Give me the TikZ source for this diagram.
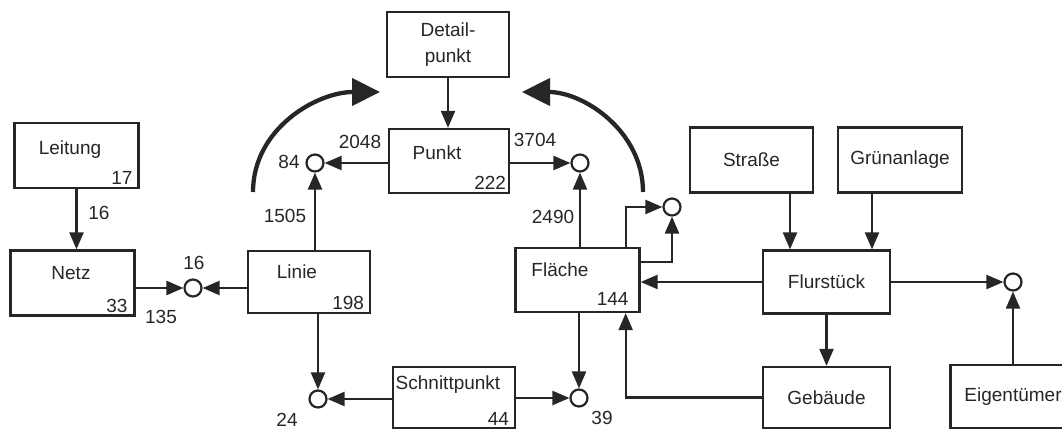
\documentclass[tikz,border=0pt]{standalone}
\usepackage{fontspec}
\setmainfont{Liberation Sans}
\usepackage{tikz}
\usetikzlibrary{arrows.meta}

\begin{document}
\begin{tikzpicture}[
  x=1pt, y=-1pt,
  entity/.style={
    draw=black!85,
    line width=2.3pt,
    minimum width=124pt,
    minimum height=65pt,
    inner sep=0pt,
    align=center,
    text=black!85,
    font=\fontsize{19pt}{26pt}\selectfont
  },
  caption/.style={
    inner sep=0pt,
    text=black!85,
    font=\fontsize{19pt}{26pt}\selectfont
  },
  count/.style={
    anchor=south east,
    inner sep=0pt,
    text=black!85,
    font=\fontsize{19pt}{26pt}\selectfont
  },
  link/.style={
    circle,
    draw=black!85,
    line width=2.2pt,
    minimum size=17pt,
    inner sep=0pt
  },
  flow/.style={
    -{Triangle[length=17pt,width=14pt]},
    draw=black!85,
    line width=2.3pt
  },
  swing/.style={
    -{Triangle[length=28pt,width=27pt]},
    draw=black!85,
    line width=4.3pt
  }
]
\useasboundingbox (0,0) rectangle (1062,430);

% Left part: Leitung, Netz, Linie
\node[entity] (leitung) at (76.5,155.5) {};
\node[caption] (leitung-t) at (70,150) {Leitung};
\node[count] (leitung-n) at ([shift={(-7pt,4pt)}]leitung.south east) {17};

\node[entity] (netz) at (72.5,283) {};
\node[caption] (netz-t) at (71,273) {Netz};
\node[count] (netz-n) at ([shift={(-8pt,4pt)}]netz.south east) {33};

\node[entity, minimum width=122pt, minimum height=62pt] (linie) at (309,282) {};
\node[caption] (linie-t) at (297,272) {Linie};
\node[count] (linie-n) at ([shift={(-7pt,4pt)}]linie.south east) {198};

% Middle part: Detailpunkt, Punkt, Fläche, Schnittpunkt
\node[entity, minimum width=122pt] (detail) at (448,44.5) {Detail-\\punkt};

\node[entity, minimum width=120pt, minimum height=64pt] (punkt) at (449,161) {};
\node[caption] (punkt-t) at (437,153) {Punkt};
\node[count] (punkt-n) at ([shift={(-4pt,4pt)}]punkt.south east) {222};

\node[entity, minimum height=64pt] (flaeche) at (577.5,280) {};
\node[caption] (flaeche-t) at (560,270) {Fläche};
\node[count] (flaeche-n) at ([shift={(-12pt,7pt)}]flaeche.south east) {144};

\node[entity, minimum width=122pt, minimum height=61pt] (schnitt) at (454,397.5) {};
\node[caption] (schnitt-t) at (448,385) {Schnittpunkt};
\node[count] (schnitt-n) at ([shift={(-7pt,3pt)}]schnitt.south east) {44};

% Right part: Straße, Grünanlage, Flurstück, Gebäude, Eigentümer
\node[entity, minimum width=123pt] (strasse) at (751.5,160) {Straße};
\node[entity] (gruen) at (900,160) {Grünanlage};
\node[entity, minimum width=127pt, minimum height=63pt] (flur) at (826.5,282) {Flurstück};
\node[entity, minimum width=127pt, minimum height=61pt] (gebaeude) at (826.5,397.5) {Gebäude};
\node[entity, minimum width=125pt, minimum height=63pt] (eigen) at (1013,396.5) {Eigentümer};

% Connection circles
\node[link] (c16) at (193,288) {};
\node[link] (c84) at (315,163) {};
\node[link] (c37) at (580,163) {};
\node[link] (cf) at (672,207) {};
\node[link] (c24) at (318,399) {};
\node[link] (c39) at (579,398) {};
\node[link] (ce) at (1013,282) {};

% Numbers on the links
\node[caption] (n16a) at (99,213) {16};
\node[caption] (n16b) at (194,263) {16};
\node[caption] (n135) at (161,317) {135};
\node[caption] (n1505) at (285,216) {1505};
\node[caption] (n84) at (289,162) {84};
\node[caption] (n2048) at (360,142) {2048};
\node[caption] (n3704) at (535,140) {3704};
\node[caption] (n2490) at (553,217) {2490};
\node[caption] (n24) at (287,420) {24};
\node[caption] (n39) at (602,418) {39};

% Helper points
\coordinate (s1) at ([xshift=-36.5pt]flur.north);
\coordinate (g1) at ([xshift=45.5pt]flur.north);
\coordinate (la) at (253,192);
\coordinate (lb) at (380,92);
\coordinate (ra) at (643,192);
\coordinate (rb) at (522,92);

\draw[flow] (leitung.south) -- (leitung.south |- netz.north);
\draw[flow] (netz.east |- c16) -- (c16);
\draw[flow] (linie.west |- c16) -- (c16);
\draw[flow] (c84 |- linie.north) -- (c84);
\draw[flow] (punkt.west |- c84) -- (c84);
\draw[flow] (detail.south) -- (detail.south |- punkt.north);
\draw[flow] (punkt.east |- c37) -- (c37);
\draw[flow] (c37 |- flaeche.north) -- (c37);
\draw[flow] ([xshift=-15pt]flaeche.north east) |- (cf);
\draw[flow] ([yshift=18pt]flaeche.east) -| (cf);
\draw[flow] (flur.west) -- (flur.west -| flaeche.east);
\draw[flow] (c24 |- linie.south) -- (c24);
\draw[flow] (schnitt.west |- c24) -- (c24);
\draw[flow] (schnitt.east |- c39) -- (c39);
\draw[flow] (c39 |- flaeche.south) -- (c39);
\draw[flow] (gebaeude.west) -| ([xshift=-15pt]flaeche.south east);
\draw[flow] (s1 |- strasse.south) -- (s1);
\draw[flow] (g1 |- gruen.south) -- (g1);
\draw[flow] (flur) -- (gebaeude);
\draw[flow] (flur.east |- ce) -- (ce);
\draw[flow] (eigen) -- (ce);

\draw[swing] (la) to[out=90,in=180] (lb);
\draw[swing] (ra) to[out=90,in=0] (rb);

\end{tikzpicture}
\end{document}
